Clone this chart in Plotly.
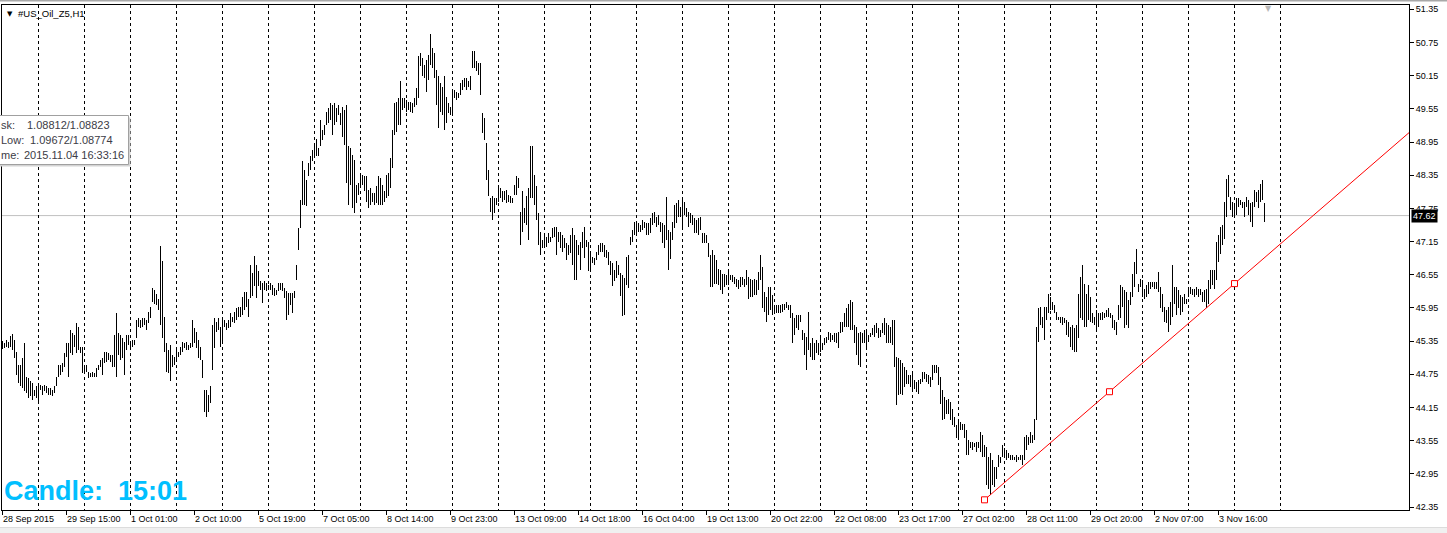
import plotly.graph_objects as go

# ---------------- data (hourly bars, #US_Oil_Z5 H1) ----------------
highs = [
    45.35, 45.31, 45.37, 45.34, 45.44, 45.47, 45.37, 45.16, 44.92, 44.92,
    45.04, 45.31, 44.71, 44.68, 44.62, 44.59, 44.47, 44.53, 44.56, 44.56,
    44.53, 44.56, 44.53, 44.50, 44.50, 44.47, 44.53, 44.71, 44.92, 44.92,
    44.95, 45.13, 45.31, 45.31, 45.55, 45.49, 45.46, 45.67, 45.61, 45.25,
    45.25, 44.92, 44.92, 44.80, 44.77, 44.80, 44.77, 44.86, 44.92, 45.01,
    45.04, 45.16, 45.16, 45.13, 45.10, 45.10, 45.46, 45.85, 45.49, 45.46,
    45.40, 45.34, 45.46, 45.46, 45.34, 45.37, 45.37, 45.73, 45.76, 45.73,
    45.76, 45.76, 45.73, 45.88, 45.97, 46.31, 46.27, 46.21, 46.12, 47.07,
    46.79, 45.79, 45.31, 45.19, 45.28, 45.10, 45.07, 45.25, 45.16, 45.25,
    45.34, 45.31, 45.34, 45.28, 45.31, 45.74, 45.58, 45.52, 45.37, 45.25,
    45.01, 44.47, 44.47, 44.38, 44.53, 45.64, 45.76, 45.70, 45.76, 45.61,
    45.76, 45.73, 45.67, 45.73, 45.85, 45.79, 45.88, 45.94, 45.97, 45.97,
    46.15, 46.24, 46.24, 46.12, 46.73, 46.58, 46.89, 46.73, 46.61, 46.43,
    46.40, 46.43, 46.40, 46.37, 46.40, 46.37, 46.31, 46.28, 46.40, 46.40,
    46.40, 46.31, 46.25, 46.22, 46.22, 46.22, 46.25, 46.73, 47.39, 47.91,
    48.60, 48.45, 48.27, 48.57, 48.69, 48.80, 48.90, 49.00, 48.84, 49.35,
    49.17, 49.26, 49.50, 49.56, 49.65, 49.62, 49.65, 49.56, 49.62, 49.47,
    49.59, 49.53, 49.62, 48.87, 48.84, 48.72, 48.63, 48.18, 48.21, 48.39,
    48.36, 48.33, 48.33, 48.09, 48.12, 48.03, 48.03, 48.15, 48.33, 48.30,
    48.18, 48.06, 48.36, 48.39, 48.66, 49.17, 49.65, 49.68, 49.74, 50.05,
    49.74, 49.74, 49.71, 49.68, 49.68, 49.65, 49.74, 49.92, 50.50, 50.56,
    50.47, 50.35, 50.44, 50.53, 50.90, 50.65, 50.56, 50.26, 50.14, 50.02,
    49.95, 50.14, 49.77, 49.65, 49.59, 49.89, 49.89, 49.86, 49.83, 50.02,
    50.08, 50.11, 50.11, 50.05, 50.14, 50.59, 50.60, 50.41, 50.38, 50.38,
    49.47, 49.38, 48.93, 48.45, 47.94, 47.97, 47.94, 47.94, 48.18, 48.12,
    48.06, 48.06, 48.09, 48.00, 47.97, 47.94, 48.18, 48.33, 48.30, 47.69,
    48.06, 47.75, 47.97, 48.12, 48.87, 48.87, 48.36, 48.15, 47.66, 47.33,
    47.18, 47.30, 47.24, 47.30, 47.24, 47.39, 47.42, 47.42, 47.33, 47.33,
    47.27, 47.21, 47.12, 47.09, 47.27, 47.39, 47.27, 47.18, 47.09, 47.15,
    47.33, 47.42, 47.18, 47.15, 46.97, 46.88, 46.85, 46.97, 47.09, 47.12,
    47.12, 47.09, 47.00, 46.97, 46.79, 46.76, 46.64, 46.79, 46.73, 46.58,
    46.55, 46.49, 46.88, 46.91, 47.24, 47.36, 47.51, 47.51, 47.48, 47.45,
    47.54, 47.51, 47.48, 47.48, 47.57, 47.66, 47.69, 47.60, 47.63, 47.51,
    47.48, 47.45, 47.96, 47.36, 47.33, 47.51, 47.81, 47.84, 47.90, 47.78,
    47.90, 47.87, 47.75, 47.69, 47.66, 47.63, 47.57, 47.54, 47.57, 47.60,
    47.30, 47.30, 47.27, 47.12, 46.91, 47.00, 46.91, 46.82, 46.66, 46.63,
    46.57, 46.57, 46.54, 46.66, 46.54, 46.54, 46.51, 46.48, 46.45, 46.51,
    46.51, 46.48, 46.63, 46.51, 46.48, 46.45, 46.48, 46.45, 46.60, 46.91,
    46.69, 46.24, 46.15, 46.33, 46.33, 46.18, 46.00, 46.00, 46.00, 46.00,
    46.03, 46.03, 46.06, 46.00, 46.00, 45.85, 45.76, 45.82, 45.82, 45.82,
    45.55, 45.49, 45.43, 45.88, 45.31, 45.40, 45.31, 45.37, 45.31, 45.46,
    45.31, 45.40, 45.43, 45.52, 45.49, 45.46, 45.49, 45.49, 45.52, 45.70,
    45.70, 45.85, 45.94, 46.03, 46.09, 46.06, 45.64, 45.61, 45.49, 45.52,
    45.49, 45.55, 45.52, 45.46, 45.49, 45.58, 45.64, 45.67, 45.58, 45.55,
    45.67, 45.76, 45.67, 45.64, 45.61, 45.73, 45.73, 45.07, 45.04, 45.01,
    44.95, 44.89, 44.83, 44.73, 44.73, 44.79, 44.64, 44.61, 44.64, 44.67,
    44.79, 44.79, 44.76, 44.73, 44.70, 44.92, 44.92, 44.92, 44.89, 44.70,
    44.46, 44.34, 44.28, 44.31, 44.25, 44.13, 43.98, 43.83, 43.95, 43.89,
    43.86, 43.86, 43.74, 43.56, 43.53, 43.53, 43.50, 43.53, 43.53, 43.71,
    43.65, 43.47, 43.44, 43.26, 43.32, 43.20, 43.08, 43.08, 43.29, 43.26,
    43.47, 43.41, 43.38, 43.32, 43.29, 43.29, 43.26, 43.29, 43.26, 43.29,
    43.29, 43.62, 43.65, 43.62, 43.71, 43.65, 43.95, 45.61, 45.94, 45.97,
    45.79, 45.97, 45.97, 46.21, 46.15, 46.06, 46.00, 45.88, 45.79, 45.79,
    45.79, 45.76, 45.73, 45.70, 45.61, 45.64, 45.58, 45.64, 46.21, 46.51,
    46.72, 46.39, 46.21, 46.36, 46.15, 45.85, 45.79, 45.91, 45.85, 45.85,
    45.88, 45.85, 45.91, 45.94, 45.85, 45.82, 45.73, 45.70, 46.00, 46.36,
    46.33, 46.27, 46.24, 46.09, 46.24, 46.57, 46.78, 47.02, 46.39, 46.48,
    46.45, 46.30, 46.36, 46.42, 46.42, 46.42, 46.42, 46.42, 46.60, 46.33,
    46.21, 45.97, 45.91, 45.97, 46.06, 46.72, 46.33, 46.33, 46.27, 46.18,
    46.15, 46.21, 46.12, 46.33, 46.33, 46.30, 46.30, 46.33, 46.30, 46.30,
    46.24, 46.27, 46.30, 46.45, 46.63, 46.63, 46.63, 47.14, 47.26, 47.42,
    47.45, 47.87, 48.29, 48.35, 47.96, 47.87, 47.84, 47.93, 47.93, 47.90,
    47.87, 47.87, 47.96, 47.90, 47.84, 47.87, 48.08, 48.05, 48.08, 48.20,
    48.26, 47.84,
]

lows = [
    45.20, 45.22, 45.25, 45.22, 45.25, 45.19, 45.04, 44.74, 44.59, 44.53,
    44.50, 44.44, 44.41, 44.32, 44.35, 44.29, 44.35, 44.32, 44.23, 44.47,
    44.38, 44.44, 44.41, 44.38, 44.38, 44.35, 44.41, 44.53, 44.71, 44.74,
    44.80, 44.89, 45.07, 44.71, 45.13, 45.10, 45.25, 45.13, 45.19, 45.13,
    44.77, 44.77, 44.80, 44.68, 44.71, 44.71, 44.71, 44.71, 44.83, 44.89,
    44.74, 44.95, 44.98, 45.01, 44.98, 44.89, 44.89, 44.71, 45.10, 45.01,
    45.04, 44.74, 45.19, 45.28, 45.22, 45.25, 45.28, 45.40, 45.61, 45.58,
    45.61, 45.64, 45.55, 45.67, 45.76, 46.06, 46.03, 46.00, 45.91, 45.64,
    45.40, 45.16, 44.80, 44.77, 44.62, 44.89, 44.92, 44.98, 45.07, 45.10,
    45.16, 45.22, 45.19, 45.19, 45.22, 45.25, 45.31, 45.22, 45.04, 45.01,
    44.68, 44.07, 43.98, 44.07, 44.23, 44.83, 45.22, 45.52, 45.55, 45.25,
    45.31, 45.61, 45.55, 45.58, 45.61, 45.70, 45.67, 45.73, 45.79, 45.79,
    45.82, 45.91, 45.97, 45.79, 46.13, 46.16, 46.34, 46.13, 46.34, 46.28,
    46.04, 46.28, 46.25, 46.28, 46.28, 46.19, 46.16, 46.19, 46.25, 46.28,
    46.25, 46.13, 45.74, 45.83, 46.01, 45.86, 46.13, 46.46, 47.00, 47.39,
    47.82, 47.82, 47.79, 48.33, 48.45, 48.60, 48.66, 48.70, 48.69, 48.87,
    48.99, 49.08, 49.26, 49.29, 49.35, 49.08, 49.26, 49.32, 49.44, 49.26,
    49.05, 48.90, 48.21, 47.81, 48.18, 47.75, 47.66, 47.84, 48.00, 48.12,
    48.18, 48.06, 47.87, 47.75, 47.81, 47.87, 47.81, 47.84, 47.81, 47.81,
    47.81, 47.87, 47.94, 47.97, 48.12, 48.48, 49.08, 49.14, 49.26, 49.26,
    49.53, 49.56, 49.50, 49.53, 49.50, 49.47, 49.59, 49.62, 49.74, 50.32,
    50.14, 50.11, 49.86, 50.08, 50.35, 50.29, 50.11, 49.62, 49.20, 49.50,
    49.44, 49.17, 49.29, 49.47, 49.44, 49.44, 49.74, 49.71, 49.74, 49.80,
    49.89, 49.95, 49.89, 49.95, 49.89, 50.29, 50.29, 50.23, 50.17, 49.80,
    49.11, 48.99, 48.27, 47.97, 47.69, 47.54, 47.66, 47.81, 47.87, 47.94,
    47.87, 47.91, 47.84, 47.87, 47.84, 47.84, 48.00, 48.00, 48.12, 47.09,
    47.33, 47.48, 47.45, 47.18, 47.94, 47.94, 47.81, 47.54, 47.09, 46.91,
    47.03, 47.09, 47.06, 47.12, 47.15, 47.21, 47.24, 46.91, 47.15, 47.03,
    46.97, 47.03, 46.82, 46.91, 46.94, 46.73, 46.46, 46.46, 46.91, 46.64,
    47.03, 46.85, 47.06, 46.61, 46.64, 46.76, 46.73, 46.82, 46.91, 46.97,
    46.97, 46.88, 46.85, 46.73, 46.55, 46.34, 46.43, 46.49, 46.55, 46.16,
    45.80, 45.83, 46.37, 46.31, 47.09, 47.15, 47.27, 47.30, 47.33, 47.33,
    47.36, 47.39, 47.27, 47.27, 47.30, 47.45, 47.48, 47.42, 47.45, 47.33,
    47.12, 47.03, 47.18, 46.63, 46.84, 47.18, 47.39, 47.48, 47.60, 47.60,
    47.39, 47.63, 47.60, 47.42, 47.48, 47.45, 47.30, 47.30, 47.27, 47.36,
    47.12, 47.12, 47.12, 46.88, 46.33, 46.33, 46.39, 46.39, 46.36, 46.27,
    46.21, 46.33, 46.36, 46.36, 46.45, 46.42, 46.39, 46.33, 46.30, 46.33,
    46.36, 46.33, 46.36, 46.12, 46.15, 46.15, 46.18, 46.18, 46.27, 46.45,
    45.94, 45.88, 45.70, 45.82, 45.91, 45.82, 45.85, 45.85, 45.85, 45.85,
    45.88, 45.91, 45.94, 45.91, 45.76, 45.31, 45.46, 45.58, 45.55, 45.70,
    45.37, 45.10, 44.83, 45.19, 45.07, 45.01, 45.01, 45.13, 45.10, 45.16,
    45.19, 45.28, 45.31, 45.37, 45.34, 45.37, 45.34, 45.31, 45.22, 45.49,
    45.52, 45.61, 45.61, 45.61, 45.55, 45.55, 45.31, 45.10, 44.92, 44.89,
    45.31, 45.31, 45.25, 45.34, 45.43, 45.46, 45.43, 45.49, 45.40, 45.43,
    45.49, 45.46, 45.31, 45.31, 45.31, 45.28, 44.89, 44.19, 44.37, 44.40,
    44.37, 44.52, 44.58, 44.58, 44.52, 44.49, 44.49, 44.43, 44.40, 44.58,
    44.61, 44.67, 44.61, 44.58, 44.52, 44.64, 44.77, 44.77, 44.55, 44.22,
    43.92, 43.95, 44.04, 44.04, 43.92, 43.83, 43.80, 43.59, 43.62, 43.74,
    43.74, 43.59, 43.29, 43.29, 43.41, 43.38, 43.44, 43.35, 43.41, 43.35,
    43.26, 43.26, 42.74, 42.68, 42.56, 42.74, 42.71, 42.86, 43.08, 43.14,
    43.26, 43.23, 43.20, 43.23, 43.20, 43.20, 43.20, 43.17, 43.20, 43.20,
    43.11, 43.20, 43.38, 43.47, 43.50, 43.50, 43.56, 43.92, 45.34, 45.64,
    45.58, 45.37, 45.73, 45.85, 45.91, 45.91, 45.85, 45.73, 45.73, 45.67,
    45.64, 45.67, 45.46, 45.43, 45.25, 45.19, 45.15, 45.15, 45.40, 45.76,
    45.73, 45.61, 45.61, 45.73, 45.70, 45.67, 45.64, 45.52, 45.61, 45.73,
    45.73, 45.76, 45.79, 45.79, 45.76, 45.58, 45.55, 45.46, 45.73, 45.76,
    45.97, 45.58, 45.64, 45.58, 46.00, 46.15, 46.33, 46.57, 46.24, 46.33,
    46.15, 46.12, 46.15, 46.21, 46.30, 46.33, 46.30, 46.30, 46.24, 45.94,
    45.88, 45.70, 45.67, 45.52, 45.64, 45.79, 46.03, 45.82, 45.94, 45.82,
    45.88, 46.03, 46.03, 46.15, 46.21, 46.18, 46.15, 46.18, 46.15, 46.18,
    46.06, 46.06, 45.94, 46.03, 46.30, 46.36, 46.30, 46.45, 46.78, 46.93,
    47.08, 47.20, 47.60, 47.96, 47.72, 47.60, 47.57, 47.63, 47.78, 47.81,
    47.75, 47.60, 47.78, 47.63, 47.51, 47.42, 47.78, 47.87, 47.75, 47.87,
    47.90, 47.51,
]

time_labels = [
    "28 Sep 2015", "29 Sep 15:00", "1 Oct 01:00", "2 Oct 10:00", "5 Oct 19:00",
    "7 Oct 05:00", "8 Oct 14:00", "9 Oct 23:00", "13 Oct 09:00", "14 Oct 18:00",
    "16 Oct 04:00", "19 Oct 13:00", "20 Oct 22:00", "22 Oct 08:00", "23 Oct 17:00",
    "27 Oct 02:00", "28 Oct 11:00", "29 Oct 20:00", "2 Nov 07:00", "3 Nov 16:00",
]
label_step = 32                  # bars between time labels
grid_first, grid_step, grid_count = 18, 23, 28   # dashed period separators

price_ticks = [42.35, 42.95, 43.55, 44.15, 44.75, 45.35, 45.95, 46.55,
               47.15, 47.75, 48.35, 48.95, 49.55, 50.15, 50.75, 51.35]
bid_price = 47.62

# trend line anchors (bar index, price)
trend_bars = [491, 616]
trend_prices = [42.48, 46.39]

symbol_title = "#US_Oil_Z5,H1"
candle_text = "Candle:  15:01"
info_labels = ["sk:", "Low:", "me:"]
info_values = ["1.08812/1.08823", "1.09672/1.08774", "2015.11.04 16:33:16"]

# ---------------- figure geometry ----------------
W, H = 1447, 533
ML, MR, MT, MB = 2, 38, 5, 23
PW = W - ML - MR
PH = H - MT - MB
n = min(len(highs), len(lows))
idx = list(range(n))
x_range = [-0.25, -0.25 + PW / 2.0]          # 2 px per bar
y_range = [42.296, 51.428]


def px(xp):
    return (xp - ML) / PW


def py(yp):
    return (H - MB - yp) / PH


FONT = "Liberation Sans"

fig = go.Figure()

fig.add_trace(go.Bar(
    x=idx, base=lows[:n], y=[h - l for h, l in zip(highs[:n], lows[:n])],
    width=0.45, marker=dict(color="black", line=dict(width=0)),
    hoverinfo="skip", showlegend=False, xaxis="x", yaxis="y"))

slope = (trend_prices[1] - trend_prices[0]) / (trend_bars[1] - trend_bars[0])
x_end = x_range[1]
fig.add_trace(go.Scatter(
    x=[trend_bars[0], x_end],
    y=[trend_prices[0], trend_prices[0] + slope * (x_end - trend_bars[0])],
    mode="lines", line=dict(color="red", width=1), hoverinfo="skip",
    showlegend=False, xaxis="x2", yaxis="y"))
mid_bar = (trend_bars[0] + trend_bars[1]) / 2.0
fig.add_trace(go.Scatter(
    x=[trend_bars[0], mid_bar, trend_bars[1]],
    y=[trend_prices[0], (trend_prices[0] + trend_prices[1]) / 2.0, trend_prices[1]],
    mode="markers",
    marker=dict(symbol="square", size=6, color="white", line=dict(color="red", width=1)),
    hoverinfo="skip", showlegend=False, xaxis="x2", yaxis="y"))

label_pos = [i * label_step for i in range(len(time_labels))]
grid_pos = [grid_first + k * grid_step for k in range(grid_count)]

axis_font = dict(family=FONT, size=9, color="black")

fig.update_layout(
    width=W, height=H,
    margin=dict(l=ML, r=MR, t=MT, b=MB, pad=0),
    paper_bgcolor="white", plot_bgcolor="white",
    showlegend=False, bargap=0,
    xaxis=dict(range=x_range, tickmode="array", tickvals=grid_pos,
               showticklabels=False, ticks="", showgrid=True,
               gridcolor="black", gridwidth=1, griddash="3px,3px",
               zeroline=False, showline=True, linecolor="black", linewidth=1,
               mirror=True),
    xaxis2=dict(range=x_range, overlaying="x", side="bottom",
                tickmode="array", tickvals=label_pos, ticktext=time_labels,
                ticks="outside", ticklen=4, tickcolor="black", tickwidth=1,
                ticklabelposition="outside right",
                showgrid=False, zeroline=False, showline=False,
                tickfont=axis_font),
    yaxis=dict(range=y_range, side="right", tickmode="array",
               tickvals=price_ticks, ticktext=[f"{v:.2f}" for v in price_ticks],
               ticks="outside", ticklen=4, tickcolor="black", tickwidth=1,
               showgrid=False, zeroline=False, showline=True,
               linecolor="black", linewidth=1, mirror=True,
               tickfont=axis_font),
)

shapes = [
    # bid line
    dict(type="line", xref="paper", x0=0, x1=1, yref="y", y0=bid_price, y1=bid_price,
         line=dict(color="#C0C0C0", width=1), layer="below"),
    # window frame top
    dict(type="rect", xref="paper", x0=px(0), x1=px(W), yref="paper", y0=py(0), y1=py(1.6),
         fillcolor="#A8A8A8", line=dict(width=0), layer="above"),
    # status strip bottom
    dict(type="rect", xref="paper", x0=px(0), x1=px(W), yref="paper", y0=py(527.5), y1=py(H),
         fillcolor="#F0F0F0", line=dict(width=0), layer="above"),
    dict(type="line", xref="paper", x0=px(0), x1=px(W), yref="paper", y0=py(527.5), y1=py(527.5),
         line=dict(color="#DCDCDC", width=1), layer="above"),
    # info box shadow + box
    dict(type="rect", xref="paper", x0=px(-5), x1=px(130.5), yref="paper", y0=py(117.5), y1=py(166.5),
         fillcolor="#D4D4D4", line=dict(width=0), layer="above"),
    dict(type="rect", xref="paper", x0=px(-5), x1=px(128.5), yref="paper", y0=py(115.5), y1=py(164.5),
         fillcolor="white", line=dict(color="#A0A0A0", width=1), layer="above"),
]
fig.update_layout(shapes=shapes)

ann = []
# bid price label
ann.append(dict(xref="paper", x=1, xanchor="left", xshift=2, yref="y", y=bid_price,
                yanchor="middle", text=f"{bid_price:.2f}", showarrow=False,
                bgcolor="black", borderpad=1,
                font=dict(family=FONT, size=9, color="white")))
# symbol title
ann.append(dict(xref="paper", x=px(5), xanchor="left", yref="paper", y=py(13.5),
                yanchor="middle", text="▼", showarrow=False,
                font=dict(family="DejaVu Sans", size=7, color="black")))
ann.append(dict(xref="paper", x=px(16), xanchor="left", yref="paper", y=py(13.5),
                yanchor="middle", text=symbol_title, showarrow=False,
                font=dict(family=FONT, size=9.5, color="black")))
# shift marker
ann.append(dict(xref="paper", x=px(1268), xanchor="center", yref="paper", y=py(8),
                yanchor="middle", text="▼", showarrow=False,
                font=dict(family="DejaVu Sans", size=8, color="#B8B8B8")))
# candle timer
ann.append(dict(xref="paper", x=px(2), xanchor="left", yref="paper", y=py(491),
                yanchor="middle", text=f"<b>{candle_text}</b>", showarrow=False,
                font=dict(family=FONT, size=27, color="#00BFFF")))
# info box lines
info_rows = [125, 139.5, 154.5]
info_val_x = [24.5, 27.5, 21.5]
for lab, val, yy, vx in zip(info_labels, info_values, info_rows, info_val_x):
    ann.append(dict(xref="paper", x=px(-1), xanchor="left", yref="paper", y=py(yy),
                    yanchor="middle", text=lab, showarrow=False,
                    font=dict(family=FONT, size=11, color="#3C3C46")))
    ann.append(dict(xref="paper", x=px(vx), xanchor="left", yref="paper", y=py(yy),
                    yanchor="middle", text=val, showarrow=False,
                    font=dict(family=FONT, size=11, color="#3C3C46")))
fig.update_layout(annotations=ann)

fig.write_html(
    "out.html",
    config={"displayModeBar": False},
    post_script="document.body.style.margin='0px';document.body.style.overflow='hidden';",
)
